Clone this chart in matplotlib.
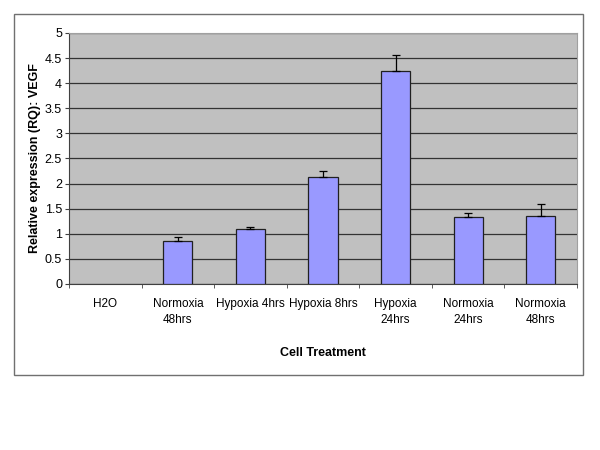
import matplotlib
matplotlib.use("Agg")
import matplotlib.pyplot as plt
import numpy as np
from matplotlib.patches import Rectangle

plt.rcParams['font.family'] = ['Liberation Sans', 'DejaVu Sans']

categories = ["H2O", "Normoxia\n48hrs", "Hypoxia 4hrs", "Hypoxia 8hrs",
              "Hypoxia\n24hrs", "Normoxia\n24hrs", "Normoxia\n48hrs"]
values = [0.0, 0.86, 1.09, 2.14, 4.24, 1.33, 1.36]
errors = [0.0, 0.07, 0.04, 0.11, 0.33, 0.09, 0.23]
yticks = [0, 0.5, 1, 1.5, 2, 2.5, 3, 3.5, 4, 4.5, 5]

fig = plt.figure(figsize=(6, 4.5), dpi=100)
fig.patches.append(Rectangle((14/600, 1-375/450), (583-14)/600, (375-14)/450,
                             transform=fig.transFigure, fill=False,
                             edgecolor='#707070', linewidth=1.0))
ax = fig.add_axes([69/600, 1-284/450, (577-69)/600, (284-33)/450])
ax.set_facecolor('#C0C0C0')

x = np.arange(len(categories))
vals = np.array(values)
errs = np.array(errors)
m = vals > 0
ax.bar(x, vals, width=0.4, color='#9999FF', edgecolor='#202020',
       linewidth=np.where(m, 0.9, 0.0), zorder=3)
ax.errorbar(x[m], vals[m], yerr=[np.zeros(m.sum()), errs[m]], fmt='none', ecolor='black',
            elinewidth=0.9, capsize=3, capthick=0.9, zorder=4)

ax.set_xlim(-0.5, len(categories)-0.5)
ax.set_ylim(0, 5)
ax.set_yticks(yticks)
ax.set_yticklabels([f"{t:g}" for t in yticks], fontsize=9)
ax.yaxis.grid(True, color='#333333', linewidth=0.9, zorder=0)
ax.set_axisbelow(True)

ax.set_xticks(x)
ax.set_xticklabels(categories, fontsize=8.5, va='top', linespacing=1.45)
ax.tick_params(axis='x', length=0, pad=10)
ax.set_xticks([i - 0.5 for i in range(len(categories)+1)], minor=True)
ax.tick_params(axis='x', which='minor', length=3, color='#404040', direction='out')
ax.tick_params(axis='y', length=3, color='#404040', direction='out', pad=2)

for s in ['top', 'right']:
    ax.spines[s].set_color('#A0A0A0')
    ax.spines[s].set_linewidth(0.8)
ax.spines['left'].set_color('#404040')
ax.spines['bottom'].set_color('#404040')

ax.set_ylabel("Relative expression (RQ): VEGF", fontsize=9, fontweight='bold', labelpad=3)
ax.set_xlabel("Cell Treatment", fontsize=9, fontweight='bold', labelpad=15)

fig.savefig("out.png", dpi=100)
